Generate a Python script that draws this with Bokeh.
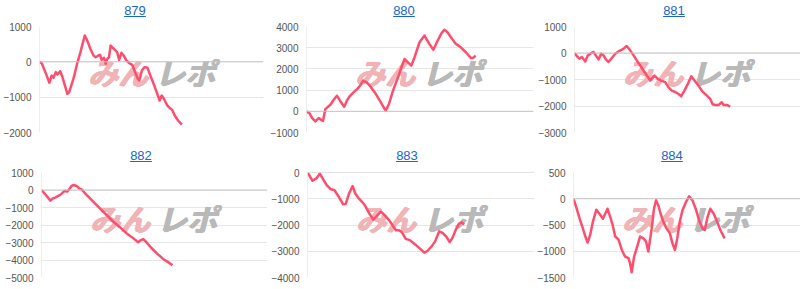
from bokeh.plotting import figure
from bokeh.layouts import column, row
from bokeh.models import Range1d, FixedTicker, Span, Label, Div
from bokeh.embed import file_html
from bokeh.resources import INLINE

# ---------------- data ----------------
titles = ["879", "880", "881", "882", "883", "884"]

x_879 = [0, 1.0, 2.9, 4.4, 5.4, 6.2, 7.3, 8.0, 9.2, 10.2, 12.4, 13.2, 15.3, 16.7, 18.2, 20.1,
         21.1, 22.6, 24.0, 25.0, 26.2, 26.9, 27.6, 28.7, 29.4, 30.1, 30.9, 31.6, 33.5, 34.5,
         35.4, 36.4, 37.4, 38.6, 40.0, 41.2, 42.2, 43.7, 44.4, 45.5, 46.6, 48.0, 49.0, 51.0,
         52.1, 53.4, 54.3, 55.3, 56.8, 57.8, 59.0, 60.1, 61.6, 63.3]
y_879 = [0, -40, -340, -590, -390, -450, -290, -360, -265, -430, -905, -860, -435, -55, 275,
         745, 620, 370, 180, 130, 180, 200, 55, 115, -55, 85, 130, 460, 340, 275, 55, 255, 180,
         40, -40, -85, -245, -480, -530, -245, -150, -170, -340, -670, -860, -1095, -955,
         -1045, -1235, -1300, -1360, -1520, -1660, -1775]

x_880 = [0, 1.4, 2.5, 3.9, 5.4, 6.4, 7.3, 8.3, 10.5, 11.9, 13.4, 14.8, 16.6, 17.8, 18.9, 20.7,
         22.4, 23.6, 25.0, 26.5, 27.9, 30.1, 32.3, 34.9, 36.4, 38.1, 40.3, 41.8, 43.2, 44.7,
         46.2, 47.6, 49.8, 52.0, 54.1, 55.9, 57.8, 59.3, 60.7, 62.1, 64.1, 65.8, 68.0, 70.2,
         72.4, 73.4, 74.5]
y_880 = [0, -100, -320, -480, -320, -400, -450, 105, 310, 530, 735, 500, 215, 500, 690, 890,
         1050, 1210, 1445, 1365, 1210, 890, 500, 25, 370, 970, 1600, 2075, 2470, 2310, 2155,
         2550, 3260, 3575, 3180, 2900, 3340, 3655, 3845, 3730, 3420, 3180, 3020, 2785, 2520,
         2520, 2630]

x_881 = [0, 1.0, 2.1, 3.2, 4.7, 5.8, 6.9, 8.3, 9.3, 10.5, 11.7, 12.7, 13.7, 14.8, 16.3, 17.8,
         19.2, 20.7, 21.8, 22.8, 24.3, 25.8, 27.2, 28.7, 30.1, 31.6, 33.1, 34.9, 36.4, 37.9,
         39.6, 41.0, 42.5, 44.2, 45.4, 46.6, 48.0, 49.5, 51.0, 52.4, 54.1, 55.9, 57.8, 59.3,
         60.3, 61.4, 62.9, 64.3, 65.1, 66.5, 68.0]
y_881 = [0, -115, -215, -150, -320, -90, -25, 40, -90, -240, -25, -90, -240, -340, -190, -25,
         60, 125, 190, 265, 100, -90, -280, -470, -660, -850, -1040, -850, -975, -1040, -1100,
         -1290, -1420, -1480, -1545, -1630, -1420, -1165, -875, -1040, -1230, -1455, -1610,
         -1735, -1935, -1960, -1960, -1860, -1960, -1960, -2025]

x_882 = [0, 1.9, 3.9, 5.1, 6.2, 7.3, 8.7, 10.2, 11.2, 12.1, 13.1, 14.1, 15.3, 16.5, 17.5, 19.7,
         22.6, 25.5, 28.4, 31.3, 34.2, 37.1, 40.0, 42.2, 43.2, 44.4, 45.5, 48.0, 51.0, 53.1,
         55.8, 57.2]
y_882 = [0, -285, -605, -475, -420, -340, -225, -40, -95, 35, 230, 285, 230, 90, 35, -285,
         -665, -1045, -1420, -1800, -2125, -2465, -2750, -2990, -2880, -2805, -2935, -3315,
         -3690, -3940, -4165, -4300]

x_883 = [0, 2.2, 3.9, 5.4, 6.6, 8.3, 10.2, 11.7, 13.8, 15.6, 16.7, 18.2, 19.7, 20.8, 22.3,
         23.7, 25.2, 26.9, 28.7, 30.1, 32.0, 33.9, 35.7, 37.4, 38.6, 40.0, 41.2, 42.9, 44.7,
         47.0, 49.5, 51.0, 52.4, 54.3, 55.8, 57.5, 59.0, 60.7, 62.1, 63.3, 64.8, 66.2, 67.4,
         68.4]
y_883 = [0, -315, -225, -40, -225, -475, -640, -665, -945, -1210, -1195, -790, -515, -790,
         -980, -1105, -1270, -1545, -1795, -1670, -1485, -1645, -1825, -2050, -2200, -2200,
         -2275, -2530, -2575, -2740, -2930, -3055, -2990, -2805, -2615, -2240, -2300, -2455,
         -2655, -2490, -2175, -1945, -1900, -1985]

x_884 = [0, 1.2, 2.7, 4.1, 5.2, 6.2, 7.3, 8.5, 10.0, 11.4, 12.9, 13.9, 14.9, 16.1, 17.2, 18.3,
         19.7, 21.2, 22.6, 24.1, 24.8, 25.5, 26.6, 27.7, 29.2, 30.7, 31.8, 32.8, 34.3, 35.3,
         36.2, 37.2, 38.2, 39.4, 40.8, 42.3, 43.4, 44.5, 45.5, 46.6, 47.8, 49.3, 50.7, 52.2,
         53.6, 55.1, 56.6, 57.6, 58.6, 60.0, 61.5, 63.0, 64.4, 66.3]
y_884 = [0, -160, -380, -565, -720, -835, -690, -440, -210, -285, -380, -285, -190, -345,
         -505, -720, -775, -975, -1100, -1130, -1225, -1400, -1100, -945, -720, -755, -815,
         -1005, -565, -190, -30, -125, -285, -440, -565, -660, -850, -975, -755, -440, -220,
         -65, 45, -30, -190, -410, -565, -595, -380, -190, -285, -440, -595, -755]

ticks_879 = [-2000, -1000, 0, 1000]
ticks_880 = [-1000, 0, 1000, 2000, 3000, 4000]
ticks_881 = [-3000, -2000, -1000, 0, 1000]
ticks_882 = [-5000, -4000, -3000, -2000, -1000, 0, 1000]
ticks_883 = [-4000, -3000, -2000, -1000, 0]
ticks_884 = [-1500, -1000, -500, 0, 500]

# ---------------- styling / layout ----------------
LINE_COLOR = "#ff4d6d"
LINK_COLOR = "#1a66cc"
PX_PER_UNIT = 2.29


def make_panel(title, xs, ys, ticks, w, h, left, right, top, bottom):
    title_h = top - 8
    fig_h = h - title_h
    frame_w = w - left - right
    frame_h = fig_h - 8 - bottom

    head = Div(
        text=(f'<div style="width:200px;margin-left:{left}px;text-align:center;'
              f'padding-top:4px;font-family:\'Liberation Sans\',Arial,sans-serif;'
              f'font-size:13px;line-height:13px;">'
              f'<a href="#" style="color:{LINK_COLOR};text-decoration:underline;">{title}</a>'
              f'</div>'),
        width=w, height=title_h, margin=0)

    p = figure(width=w, height=fig_h, output_backend="svg", toolbar_location=None, tools="",
               x_range=Range1d(0, frame_w / PX_PER_UNIT),
               y_range=Range1d(min(ticks), max(ticks)),
               x_axis_location=None,
               min_border_left=left, min_border_right=right,
               min_border_top=8, min_border_bottom=bottom)
    p.outline_line_color = None
    p.background_fill_color = "white"
    p.border_fill_color = "white"
    p.xgrid.visible = False

    ax = p.yaxis[0]
    ax.ticker = FixedTicker(ticks=ticks)
    ax.axis_line_color = None
    ax.major_tick_line_color = None
    ax.minor_tick_line_color = None
    ax.major_tick_out = 0
    ax.major_tick_in = 0
    ax.major_label_standoff = 8
    ax.major_label_text_font = "Liberation Sans"
    ax.major_label_text_font_size = "10px"
    ax.major_label_text_color = "#555555"

    p.ygrid.ticker = FixedTicker(ticks=ticks)
    p.ygrid.grid_line_color = "#e6e6e6"
    p.ygrid.grid_line_width = 1

    p.add_layout(Span(location=0, dimension="width", line_color="#c6c6c6", line_width=1))
    p.add_layout(Span(location=0, dimension="height", line_color="#dcdcdc", line_width=1))

    # watermark (drawn a few times with 1px offsets to make it heavy)
    for dx, dy in [(0, 0), (1, 0), (0.5, 0.5), (1.5, 0.5)]:
        p.add_layout(Label(x=48 + dx, y=frame_h - 45.5 + dy, x_units="screen", y_units="screen",
                           text="みん", text_font="Noto Sans CJK JP", text_font_size="30px",
                           text_font_style="bold italic", text_color="#f0b3b6",
                           text_align="left", text_baseline="middle", level="underlay"))
        p.add_layout(Label(x=115 + dx, y=frame_h - 45.5 + dy, x_units="screen", y_units="screen",
                           text="レポ", text_font="Noto Sans CJK JP", text_font_size="30px",
                           text_font_style="bold italic", text_color="#b9b9b9",
                           text_align="left", text_baseline="middle", level="underlay"))

    p.line(xs, ys, line_color=LINE_COLOR, line_width=2.5, line_join="round")
    return column(head, p, spacing=0)


p1 = make_panel(titles[0], x_879, y_879, ticks_879, 267, 145, 35, 4, 26, 13)
p2 = make_panel(titles[1], x_880, y_880, ticks_880, 267, 145, 37, 1, 26, 13)
p3 = make_panel(titles[2], x_881, y_881, ticks_881, 266, 145, 40, 0, 26, 13)
p4 = make_panel(titles[3], x_882, y_882, ticks_882, 267, 144, 41, 0, 27, 12)
p5 = make_panel(titles[4], x_883, y_883, ticks_883, 267, 144, 40, 0, 27, 12)
p6 = make_panel(titles[5], x_884, y_884, ticks_884, 266, 144, 38, 0, 27, 12)

layout = column(row(p1, p2, p3, spacing=0), row(p4, p5, p6, spacing=0), spacing=0)

open("out.html", "w").write(file_html(layout, INLINE))
